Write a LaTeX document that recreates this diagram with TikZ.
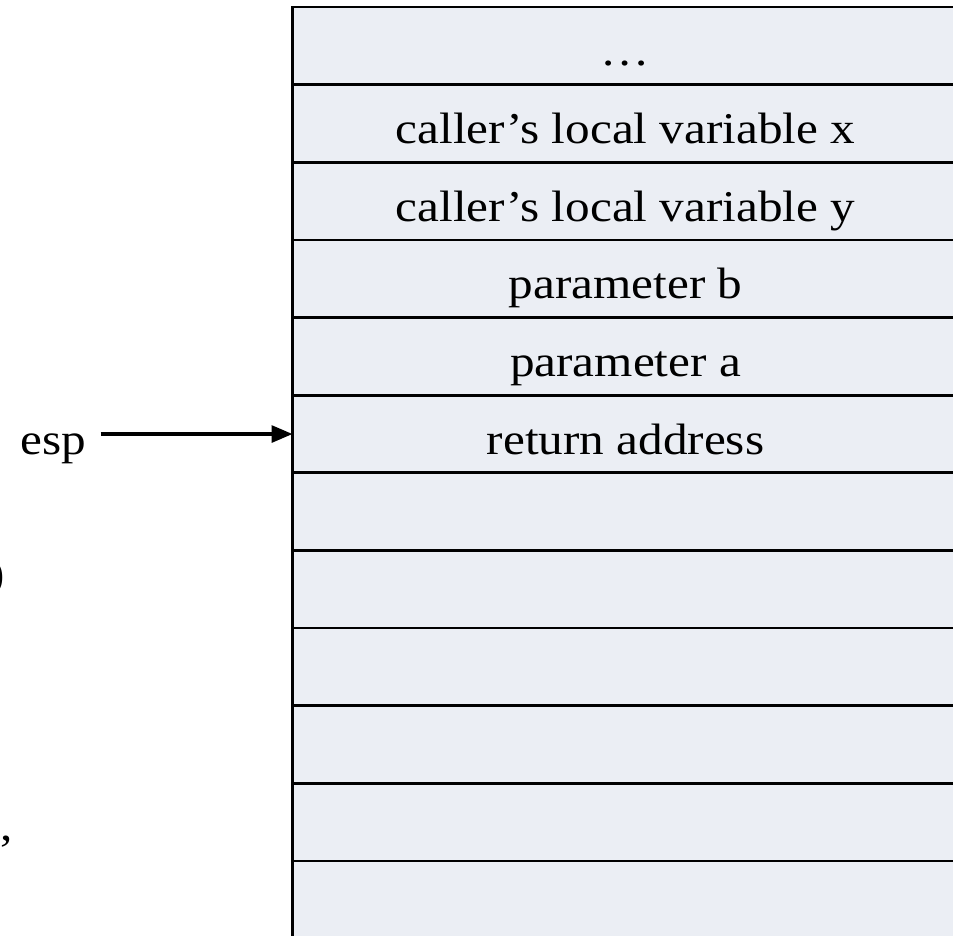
\documentclass[tikz,border=0pt]{standalone}
\usepackage{fontspec}
\setmainfont[FakeStretch=1.12]{Liberation Serif}
\usepackage{tikz}
\usetikzlibrary{arrows.meta, positioning}
\definecolor{cellfill}{RGB}{235,238,244}

\begin{document}
\begin{tikzpicture}[
    node distance=0cm,
    cell/.style={
        rectangle, inner sep=0pt, outer sep=0pt,
        minimum width=6.66cm, minimum height=0.7764cm,
        text height=0.4cm, text depth=0pt,
        font=\fontsize{12.5}{15}\selectfont,
        draw=black, line width=0.77pt, fill=cellfill
    },
    lbl/.style={font=\fontsize{12.5}{15}\selectfont,
        text height=0.4cm, text depth=0pt, inner ysep=0pt, inner xsep=0pt},
    arr/.style={-{Triangle[length=0.21cm, width=0.17cm]}, line width=0.9pt},
]
\useasboundingbox (0,0) rectangle (9.53,-9.35);

%% ---- STACK ----
\node[cell, anchor=north west] (dots) at (2.925,-0.07) {…};
\node[cell, below=of dots]  (locx)  {caller’s local variable x};
\node[cell, below=of locx]  (locy)  {caller’s local variable y};
\node[cell, below=of locy]  (parb)  {parameter b};
\node[cell, below=of parb]  (para)  {parameter a};
\node[cell, below=of para]  (ret)   {return address};
\node[cell, below=of ret]   (free1) {};
\node[cell, below=of free1] (free2) {};
\node[cell, below=of free2] (free3) {};
\node[cell, below=of free3] (free4) {};
\node[cell, below=of free4] (free5) {};
\node[cell, below=of free5] (free6) {};

%% ---- STACK POINTER ----
\node[lbl, inner xsep=0.14cm, left=1.92cm of ret] (esp) {esp};
\draw[arr] (esp.east) -- (ret.west);

%% ---- CUT-OFF TEXT AT LEFT EDGE ----
\node[lbl, anchor=base east] (paren) at (0.06,-5.88) {)};
\node[lbl, anchor=base east] (comma) at (0.14,-8.40) {s,};

\end{tikzpicture}
\end{document}
